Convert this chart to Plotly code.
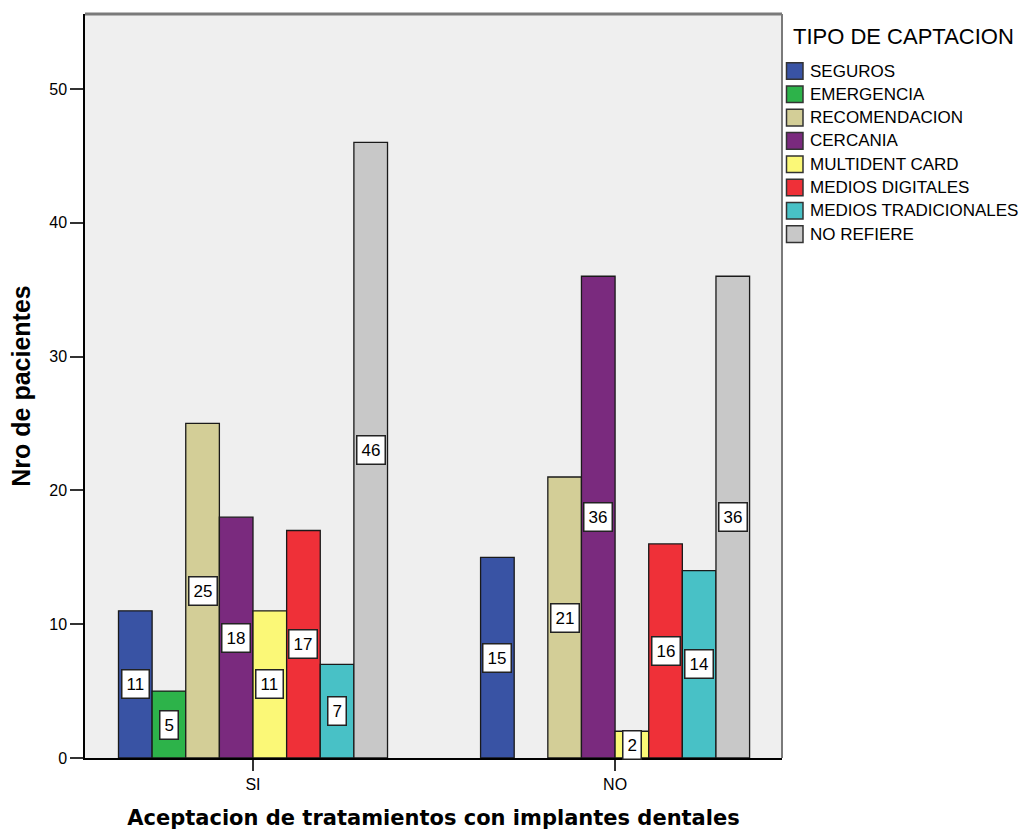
import plotly.graph_objects as go

categories = ["SI", "NO"]
series_names = ["SEGUROS", "EMERGENCIA", "RECOMENDACION", "CERCANIA",
                "MULTIDENT CARD", "MEDIOS DIGITALES", "MEDIOS TRADICIONALES", "NO REFIERE"]
values_si = [11, 5, 25, 18, 11, 17, 7, 46]
values_no = [15, None, 21, 36, 2, 16, 14, 36]
colors = ["#3953A4", "#2DB34A", "#D3CE97", "#7A2A7E",
          "#FBF877", "#EF3038", "#48C1C6", "#C8C8C8"]
legend_title = "TIPO DE CAPTACION"

FONT = "Liberation Sans, Arial, sans-serif"
n = len(series_names)
group_w = 0.743
bw = group_w / n
cat_pos = list(range(len(categories)))

# plot area in screen pixels (for paper-coordinate placement of the legend)
PL, PR, PT, PB = 85, 782, 14, 758
def px(X):
    return (X - PL) / (PR - PL)
def py(Y):
    return (PB - Y) / (PB - PT)

fig = go.Figure()
annotations = []
shapes = []
for i, name in enumerate(series_names):
    vals = [values_si[i], values_no[i]]
    off = -group_w / 2 + i * bw
    fig.add_trace(go.Bar(
        x=cat_pos, y=vals, name=name, width=bw, offset=off,
        marker=dict(color=colors[i], line=dict(color="#1a1a1a", width=1.3)),
        hoverinfo="y+name", showlegend=False,
    ))
    for c, v in zip(cat_pos, vals):
        if v is None:
            continue
        annotations.append(dict(
            x=c + off + bw / 2, y=v / 2, xref="x", yref="y",
            text=str(v), showarrow=False,
            font=dict(family=FONT, size=17, color="black"),
            bgcolor="white", bordercolor="#222222", borderwidth=1.5, borderpad=4,
        ))
    # legend entry
    yc = 71 + i * 23.3
    shapes.append(dict(
        type="rect", xref="paper", yref="paper",
        x0=px(786.5), x1=px(803), y0=py(yc + 8.3), y1=py(yc - 8.3),
        fillcolor=colors[i], line=dict(color="#333333", width=1.5),
    ))
    annotations.append(dict(
        text=name, xref="paper", yref="paper", x=px(807.5), y=py(yc),
        xanchor="left", yanchor="middle", showarrow=False,
        font=dict(family=FONT, size=17, color="black"),
    ))

annotations.append(dict(
    text=legend_title, xref="paper", yref="paper",
    x=px(791), y=py(37), xanchor="left", yanchor="middle",
    showarrow=False, font=dict(family=FONT, size=22, color="black"),
))

shapes += [
    dict(type="line", xref="paper", yref="paper", x0=0, x1=1, y0=1, y1=1,
         line=dict(color="#7a7a7a", width=3)),
    dict(type="line", xref="paper", yref="paper", x0=1, x1=1, y0=0, y1=1,
         line=dict(color="#7a7a7a", width=2)),
]

fig.update_layout(
    width=1019, height=834,
    margin=dict(l=PL, r=1019 - PR, t=PT, b=834 - PB, autoexpand=False),
    paper_bgcolor="white", plot_bgcolor="#EFEFEF",
    barmode="overlay",
    showlegend=False,
    annotations=annotations,
    shapes=shapes,
    xaxis=dict(
        range=[-0.464, 1.461], tickmode="array", tickvals=cat_pos, ticktext=categories,
        showgrid=False, zeroline=False, showline=True, linecolor="black", linewidth=1.5,
        ticks="outside", ticklen=11, tickcolor="#333333", tickwidth=1.5,
        tickfont=dict(family=FONT, size=16, color="black"),
        title=dict(text="<b>Aceptacion de tratamientos con implantes dentales</b>",
                   font=dict(family="DejaVu Sans, sans-serif", size=21, color="black"),
                   standoff=18),
    ),
    yaxis=dict(
        range=[0, 55.6], tickvals=[0, 10, 20, 30, 40, 50],
        showgrid=False, zeroline=False, showline=True, linecolor="black", linewidth=1.5,
        ticks="outside", ticklen=13, tickcolor="#333333", tickwidth=1.5,
        tickfont=dict(family=FONT, size=16, color="black"),
        title=dict(text="<b>Nro de pacientes</b>",
                   font=dict(family=FONT, size=25, color="black"),
                   standoff=12),
    ),
)

fig.write_html(
    "out.html",
    config={"displayModeBar": False},
    post_script="document.body.style.margin='0';document.body.style.overflow='hidden';",
)
